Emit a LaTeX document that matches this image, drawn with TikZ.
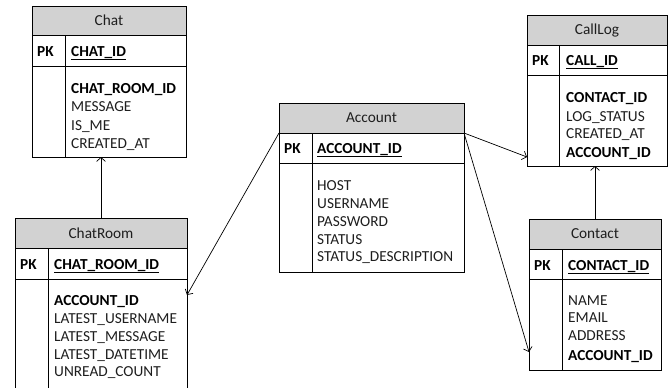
\documentclass[tikz,border=0pt]{standalone}
\usepackage{fontspec}
\setmainfont{Carlito}
\usetikzlibrary{arrows.meta}
\definecolor{hdrgray}{RGB}{210,210,210}
\definecolor{txt}{RGB}{30,30,30}
\tikzset{
  frame/.style={draw, line width=0.8bp, inner sep=0pt, outer sep=0pt, anchor=north west},
  hdr/.style={draw, fill=hdrgray, line width=0.8bp, inner sep=0pt, outer sep=0pt, anchor=north west, text=txt, font=\fontsize{15.3bp}{18bp}\selectfont},
  fld/.style={anchor=base west, inner sep=0pt, text=txt, font=\fontsize{15.3bp}{18bp}\selectfont},
  key/.style={fld, text=black, font=\fontsize{15.3bp}{18bp}\selectfont\bfseries},
  sep/.style={line width=0.8bp},
  rel/.style={line width=0.7bp, -{Straight Barb[length=4bp,width=9bp]}},
  link/.style={line width=0.7bp}
}
\begin{document}
\begin{tikzpicture}[x=1bp, y=-1bp]
\useasboundingbox (0,0) rectangle (668,387);
% ---------- Chat ----------
\node[frame, minimum width=154bp, minimum height=151bp] (chat) at (32,6) {};
\node[hdr, minimum width=154bp, minimum height=29bp] (chat-h) at (32,6) {Chat};
\draw[sep] (32,66) -- (186,66) (65,35) -- (65,157);
\node[key] (chat-pk) at (37,56) {PK};
\node[key] (chat-id) at (71,56) {\underline{CHAT\_ID}};
\node[key] (chat-f1) at (71,93) {CHAT\_ROOM\_ID};
\node[fld] (chat-f2) at (71,111) {MESSAGE};
\node[fld] (chat-f3) at (71,130) {IS\_ME};
\node[fld] (chat-f4) at (71,148) {CREATED\_AT};
% ---------- ChatRoom ----------
\node[frame, minimum width=172bp, minimum height=182bp] (chatroom) at (15,218) {};
\node[hdr, minimum width=172bp, minimum height=30bp] (chatroom-h) at (15,218) {ChatRoom};
\draw[sep] (15,279) -- (187,279) (48,248) -- (48,400);
\node[key] (cr-pk) at (20,269) {PK};
\node[key] (cr-id) at (54,269) {\underline{CHAT\_ROOM\_ID}};
\node[key] (cr-f1) at (54,305) {ACCOUNT\_ID};
\node[fld] (cr-f2) at (54,323) {LATEST\_USERNAME};
\node[fld] (cr-f3) at (54,341) {LATEST\_MESSAGE};
\node[fld] (cr-f4) at (54,359) {LATEST\_DATETIME};
\node[fld] (cr-f5) at (54,376) {UNREAD\_COUNT};
% ---------- Account ----------
\node[frame, minimum width=185bp, minimum height=169bp] (account) at (279,103) {};
\node[hdr, minimum width=185bp, minimum height=30bp] (account-h) at (279,103) {Account};
\draw[sep] (279,163) -- (464,163) (312,133) -- (312,272);
\node[key] (ac-pk) at (284,153) {PK};
\node[key] (ac-id) at (317,153) {\underline{ACCOUNT\_ID}};
\node[fld] (ac-f1) at (317,190) {HOST};
\node[fld] (ac-f2) at (317,208) {USERNAME};
\node[fld] (ac-f3) at (317,226) {PASSWORD};
\node[fld] (ac-f4) at (317,244) {STATUS};
\node[fld] (ac-f5) at (317,261) {STATUS\_DESCRIPTION};
% ---------- CallLog ----------
\node[frame, minimum width=140bp, minimum height=151bp] (calllog) at (527,15) {};
\node[hdr, minimum width=140bp, minimum height=30bp] (calllog-h) at (527,15) {CallLog};
\draw[sep] (527,75) -- (667,75) (559,45) -- (559,166);
\node[key] (cl-pk) at (532,65) {PK};
\node[key] (cl-id) at (566,65) {\underline{CALL\_ID}};
\node[key] (cl-f1) at (566,102) {CONTACT\_ID};
\node[fld] (cl-f2) at (566,121) {LOG\_STATUS};
\node[fld] (cl-f3) at (566,138) {CREATED\_AT};
\node[key] (cl-f4) at (566,157) {ACCOUNT\_ID};
% ---------- Contact ----------
\node[frame, minimum width=132bp, minimum height=151bp] (contact) at (529,219) {};
\node[hdr, minimum width=132bp, minimum height=30bp] (contact-h) at (529,219) {Contact};
\draw[sep] (529,279) -- (661,279) (562,249) -- (562,370);
\node[key] (ct-pk) at (534,270) {PK};
\node[key] (ct-id) at (568,270) {\underline{CONTACT\_ID}};
\node[fld] (ct-f1) at (568,305) {NAME};
\node[fld] (ct-f2) at (568,322) {EMAIL};
\node[fld] (ct-f3) at (568,340) {ADDRESS};
\node[key] (ct-f4) at (568,360) {ACCOUNT\_ID};
% ---------- connectors ----------
\coordinate (cr-in) at (187,295);
\coordinate (cl-in) at (527,157);
\coordinate (ct-in) at (529,352);
\draw[rel] (chatroom.north) -- (chatroom.north |- chat.south);
\draw[rel] (contact-h.north) -- (contact-h.north |- calllog.south);
\draw[rel] (account-h.south west) -- (cr-in);
\draw[rel] (account-h.south east) -- (cl-in);
\draw[rel] (account-h.south east) -- (ct-in);
\end{tikzpicture}
\end{document}
